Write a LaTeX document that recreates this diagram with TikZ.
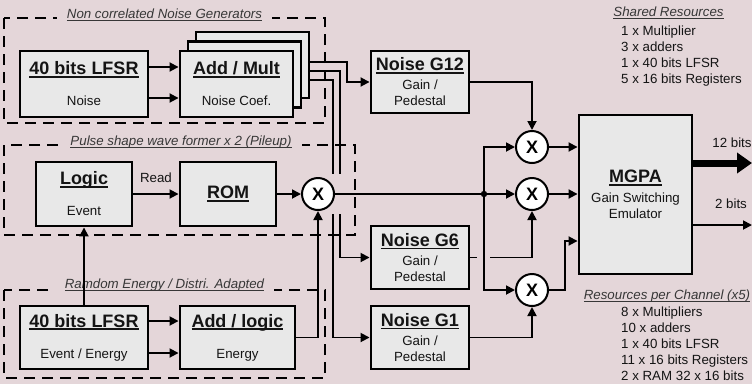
\documentclass[tikz,border=0pt]{standalone}
\usepackage{fontspec}
\setmainfont{Liberation Sans}
\usetikzlibrary{arrows.meta,positioning}

\definecolor{bgcol}{RGB}{228,214,217}
\definecolor{blkcol}{RGB}{232,232,232}
\definecolor{txtcol}{RGB}{20,20,20}
\definecolor{ttlcol}{RGB}{55,55,55}

\newcommand\bigsz{\fontsize{18}{20}\selectfont}
\newcommand\smsz{\fontsize{13.3}{16}\selectfont}
\newcommand\hdul[1]{\setbox0\hbox{\bfseries #1}\rlap{\raisebox{-3pt}{\rule{\wd0}{1.7pt}}}\box0}
\newcommand\itul[1]{\setbox0\hbox{\itshape #1}\rlap{\raisebox{-2.6pt}{\rule{\wd0}{0.9pt}}}\box0}

\begin{document}
\begin{tikzpicture}[x=1pt, y=-1pt,
    blk/.style={draw=black, line width=2.9pt, fill=blkcol, inner sep=0pt, align=center, font=\smsz, text=txtcol},
    mlt/.style={circle, draw=black, line width=2pt, fill=white, minimum size=32pt, inner sep=0pt, font=\bigsz\bfseries},
    grp/.style={draw=black, line width=2.6pt, dash pattern=on 11pt off 7pt},
    grpttl/.style={fill=bgcol, inner xsep=10pt, inner ysep=1pt, font=\smsz, text=ttlcol},
    conn/.style={draw=black, line width=1.8pt},
    arr/.style={conn, -{Triangle[length=9pt,width=9pt]}},
    res/.style={font=\smsz, text=txtcol, align=left, inner sep=0pt, anchor=north west}]
        % Background
        \fill[bgcol] (0,0) rectangle (752,384);
        \useasboundingbox (0,0) rectangle (752,384);

        % Groups
        \draw[grp] (4,18) rectangle (325,123);
        \draw[grp] (4,145) rectangle (355,235);
        \draw[grp] (4,290) rectangle (325,378);
        \node[grpttl] (ttlN) at (164.5,15) {\itul{Non correlated Noise Generators}};
        \node[grpttl] (ttlP) at (181,142) {\itul{Pulse shape wave former x 2 (Pileup)}};
        \node[grpttl] (ttlR) at (164.5,285) {\itul{Ramdom Energy / Distri. Adapted}};

        % Noise generators
        \node[blk, minimum width=128pt, minimum height=66pt] (lfsrA) at (84,84) {{\bigsz\hdul{40 bits LFSR}}\\[15pt]Noise};
        \node[blk, minimum width=113pt, minimum height=66pt] (addA3) at (252.5,65) {};
        \node[blk, minimum width=113pt, minimum height=66pt] (addA2) at (244.5,74.5) {};
        \node[blk, minimum width=113pt, minimum height=66pt] (addA) at (236.5,84) {{\bigsz\hdul{Add / Mult}}\\[15pt]Noise Coef.};

        % Pulse shape
        \node[blk, minimum width=96pt, minimum height=64pt] (logic) at (84,194) {{\bigsz\hdul{Logic}}\\[15pt]Event};
        \node[blk, minimum width=96pt, minimum height=64pt] (rom) at (228,194) {{\bigsz\hdul{ROM}}};

        % Random energy
        \node[blk, minimum width=128pt, minimum height=63pt] (lfsrB) at (84,337.5) {{\bigsz\hdul{40 bits LFSR}}\\[15pt]Event / Energy};
        \node[blk, minimum width=115pt, minimum height=63pt] (addB) at (237.5,337.5) {{\bigsz\hdul{Add / logic}}\\[15pt]Energy};

        % Gain / pedestal
        \node[blk, minimum width=98pt, minimum height=62pt] (g12) at (420,82) {{\bigsz\hdul{Noise G12}}\\[3pt]Gain /\\Pedestal};
        \node[blk, minimum width=98pt, minimum height=63pt] (g6) at (420,257.5) {{\bigsz\hdul{Noise G6}}\\[3pt]Gain /\\Pedestal};
        \node[blk, minimum width=98pt, minimum height=63pt] (g1) at (420,337.5) {{\bigsz\hdul{Noise G1}}\\[3pt]Gain /\\Pedestal};

        % Multipliers and emulator
        \node[mlt] (mlt0) at (318,194) {X};
        \node[mlt] (mlt1) at (532,147) {X};
        \node[mlt] (mlt2) at (532,194) {X};
        \node[mlt] (mlt3) at (532,290) {X};
        \node[blk, minimum width=113pt, minimum height=159pt] (mgpa) at (635.5,194.5) {{\bigsz\hdul{MGPA}}\\[4pt]Gain Switching\\Emulator};

        % Resources
        \node[font=\smsz, text=ttlcol] (shrT) at (668.5,13) {\itul{Shared Resources}};
        \node[res] (shrL) at (621,26) {1 x Multiplier\\3 x adders\\1 x 40 bits LFSR\\5 x 16 bits Registers};
        \node[font=\smsz, text=ttlcol] (chnT) at (667,296) {\itul{Resources per Channel (x5)}};
        \node[res] (chnL) at (621,307) {8 x Multipliers\\10 x adders\\1 x 40 bits LFSR\\11 x 16 bits Registers\\2 x RAM 32 x 16 bits};

        % Noise paths
        \coordinate (tapA) at (347,0);
        \coordinate (tapB) at (340,0);
        \coordinate (tapC) at (333,0);
        \coordinate (jn) at (484,194);
        \draw[arr] ([yshift=17pt]lfsrA.east) -- ([yshift=17pt]addA.west);
        \draw[arr] ([yshift=-14pt]lfsrA.east) -- ([yshift=-14pt]addA.west);
        \draw[arr] ([yshift=3pt]addA3.east) -| (tapA |- g12.west) -- (g12.west);
        \draw[conn] ([yshift=-6pt]addA3.east) -| ([yshift=3pt]tapB |- mlt0.north);
        \draw[arr] ([yshift=-3pt]tapB |- mlt0.south) |- (g6.west);
        \draw[conn] ([yshift=-15pt]addA3.east) -| ([yshift=3pt]tapC |- mlt0.north);
        \draw[arr] ([yshift=-3pt]tapC |- mlt0.south) |- (g1.west);

        % Pulse paths
        \draw[arr] (logic.east) -- node[above=10pt, inner sep=0pt, font=\smsz, text=txtcol] (rdL) {Read} (rom.west);
        \draw[arr] (rom.east) -- (mlt0.west);
        \draw[arr] (lfsrB.north) -- (logic.south);
        \draw[arr] ([yshift=16.5pt]lfsrB.east) -- ([yshift=16.5pt]addB.west);
        \draw[arr] ([yshift=-15.5pt]lfsrB.east) -- ([yshift=-15.5pt]addB.west);
        \draw[arr] (addB.east) -| (mlt0.south);

        % Mixing
        \draw[conn] (mlt0.east) -- (jn);
        \fill (jn) circle (3.2pt);
        \draw[arr] (jn) -- (mlt2.west);
        \draw[arr] (jn) |- (mlt1.west);
        \draw[arr] (jn) |- (mlt3.west);
        \draw[arr] (g12.east) -| (mlt1.north);
        \draw[conn] (g6.east) -- ([xshift=-7pt]jn |- g6.east);
        \draw[arr] ([xshift=6pt]jn |- g6.east) -| (mlt2.south);
        \draw[arr] (g1.east) -| (mlt3.south);
        \draw[arr] (mlt1.east) -- (mlt1.east -| mgpa.west);
        \draw[arr] (mlt2.east) -- (mlt2.east -| mgpa.west);
        \draw[arr] (mlt3.east) -- ++(16,0) |- ([yshift=-46.5pt]mgpa.west);

        % Outputs
        \coordinate (outH) at (752,163);
        \coordinate (outL) at (752,225);
        \draw[line width=7pt, -{Triangle[length=15pt,width=20pt]}] (mgpa.east |- outH) -- (outH);
        \draw[arr] (mgpa.east |- outL) -- (outL);
        \node[font=\smsz, text=txtcol] (bitH) at (732,143) {12 bits};
        \node[font=\smsz, text=txtcol] (bitL) at (731,204) {2 bits};
\end{tikzpicture}
\end{document}
